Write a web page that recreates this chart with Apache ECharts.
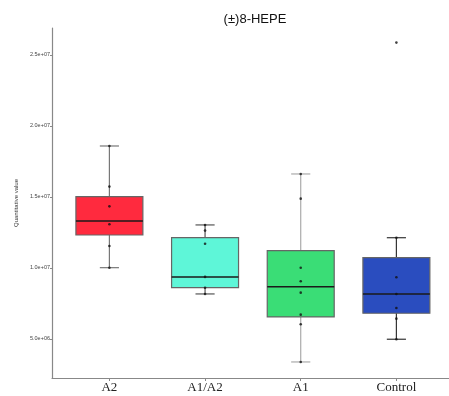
<!DOCTYPE html>
<html><head><meta charset="utf-8">
<script src="https://cdn.jsdelivr.net/npm/echarts@6/dist/echarts.min.js"></script>
<style>html,body{margin:0;padding:0;background:#fff}#c{width:449px;height:396px}</style>
</head><body><div id="c"></div>
<script>
const categories = ['A2', 'A1/A2', 'A1', 'Control'];
const whiskerLow  = [10.02e6, 8.17e6, 3.38e6, 4.98e6];
const q1          = [12.32e6, 8.61e6, 6.55e6, 6.81e6];
const median      = [13.31e6, 9.37e6, 8.68e6, 8.17e6];
const q3          = [15.02e6, 12.13e6, 11.22e6, 10.73e6];
const whiskerHigh = [18.59e6, 13.03e6, 16.62e6, 12.13e6];
const pointsA2      = [18.59e6, 15.73e6, 14.34e6, 13.08e6, 11.55e6, 10.02e6];
const pointsA1A2    = [13.03e6, 12.63e6, 11.71e6, 9.37e6, 8.61e6, 8.17e6];
const pointsA1      = [16.62e6, 14.88e6, 10.02e6, 9.06e6, 8.26e6, 6.71e6, 6.04e6, 3.38e6];
const pointsControl = [25.87e6, 12.13e6, 9.35e6, 8.17e6, 7.18e6, 6.43e6, 4.98e6];
const yTicks = [5e6, 10e6, 15e6, 20e6, 25e6];
const yTickLabels = ['5.0e+06', '1.0e+07', '1.5e+07', '2.0e+07', '2.5e+07'];

const fills = ['#FF2A3E', '#5EF6D8', '#3ADD76', '#2A4DBF'];
const whiskerColors = ['#777', '#555', '#aaa', '#333'];

const boxData = categories.map((c, i) => [i + 1, whiskerLow[i], q1[i], median[i], q3[i], whiskerHigh[i]]);
const allPoints = [pointsA2, pointsA1A2, pointsA1, pointsControl];
const pointData = [];
allPoints.forEach((arr, i) => arr.forEach(v => pointData.push([i + 1, v])));

const chart = echarts.init(document.getElementById('c'));
chart.setOption({
  animation: false,
  title: {
    text: '(±)8-HEPE', left: 250, top: 8, textAlign: 'center',
    textStyle: { fontFamily: 'Liberation Sans', fontSize: 13, fontWeight: 'normal', color: '#111' }
  },
  grid: { left: 52, right: 0, top: 28, bottom: 18 },
  xAxis: {
    type: 'value', min: 0.4, max: 4.55,
    splitLine: { show: false },
    axisLine: { show: true, lineStyle: { color: '#888', width: 1.2 } },
    axisTick: { show: true, length: 3, lineStyle: { color: '#888' }, customValues: [1, 2, 3, 4] },
    axisLabel: {
      customValues: [1, 2, 3, 4],
      formatter: v => categories[Math.round(v) - 1] || '',
      fontFamily: 'Liberation Serif', fontSize: 13, color: '#222', margin: 3
    }
  },
  yAxis: {
    type: 'value', min: 2.25e6, max: 26.9e6,
    name: 'Quantitative value', nameLocation: 'middle', nameGap: 25,
    nameTextStyle: { fontFamily: 'Liberation Sans', fontSize: 6, color: '#333' },
    splitLine: { show: false },
    axisLine: { show: true, lineStyle: { color: '#888', width: 1.2 } },
    axisTick: { show: true, length: 2, lineStyle: { color: '#888' }, customValues: yTicks },
    axisLabel: {
      customValues: yTicks,
      formatter: v => yTickLabels[yTicks.indexOf(v)] || '',
      fontFamily: 'Liberation Sans', fontSize: 5.5, color: '#444', margin: 2
    }
  },
  series: [
    {
      type: 'custom',
      data: boxData,
      encode: { x: 0, y: [1, 2, 3, 4, 5] },
      z: 2,
      renderItem: function (params, api) {
        const i = params.dataIndex;
        const x = api.value(0);
        const pLow = api.coord([x, api.value(1)]);
        const pQ1 = api.coord([x, api.value(2)]);
        const pMed = api.coord([x, api.value(3)]);
        const pQ3 = api.coord([x, api.value(4)]);
        const pHigh = api.coord([x, api.value(5)]);
        const half = (api.coord([x + 0.35, 0])[0] - api.coord([x, 0])[0]);
        const cap = (api.coord([x + 0.1, 0])[0] - api.coord([x, 0])[0]);
        const cx = pMed[0];
        const wc = whiskerColors[i];
        return {
          type: 'group',
          children: [
            { type: 'line', shape: { x1: cx, y1: pHigh[1], x2: cx, y2: pLow[1] }, style: { stroke: wc, lineWidth: 1.2 } },
            { type: 'line', shape: { x1: cx - cap, y1: pHigh[1], x2: cx + cap, y2: pHigh[1] }, style: { stroke: wc, lineWidth: 1.2 } },
            { type: 'line', shape: { x1: cx - cap, y1: pLow[1], x2: cx + cap, y2: pLow[1] }, style: { stroke: wc, lineWidth: 1.2 } },
            { type: 'rect', shape: { x: cx - half, y: pQ3[1], width: 2 * half, height: pQ1[1] - pQ3[1] },
              style: { fill: fills[i], stroke: '#666', lineWidth: 1.2 } },
            { type: 'line', shape: { x1: cx - half, y1: pMed[1], x2: cx + half, y2: pMed[1] }, style: { stroke: '#1a1a1a', lineWidth: 1.5 } }
          ]
        };
      }
    },
    {
      type: 'scatter',
      data: pointData,
      symbol: 'circle',
      symbolSize: 2.6,
      z: 5,
      itemStyle: { color: '#111' }
    }
  ]
});
</script></body></html>
